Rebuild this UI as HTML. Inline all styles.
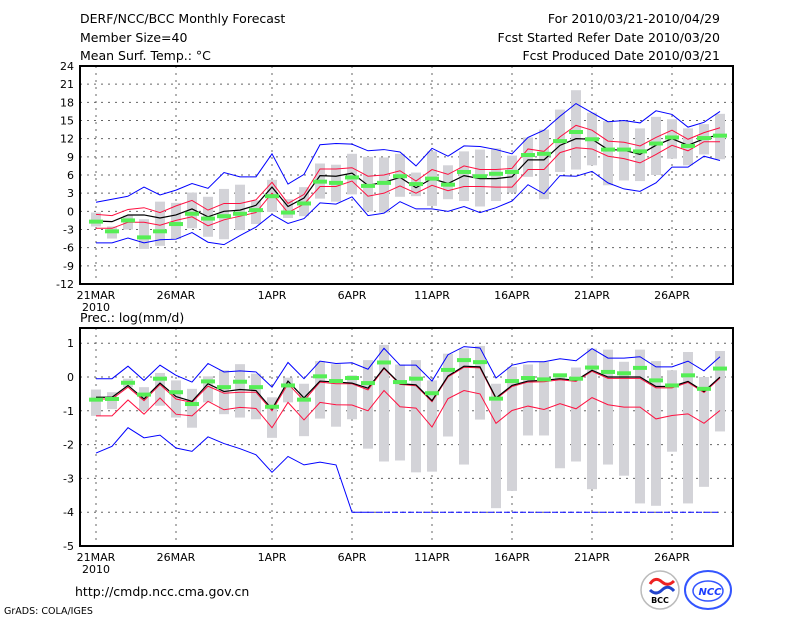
<!DOCTYPE html>
<html><head><meta charset="utf-8"><style>
body{margin:0;background:#fff;width:800px;height:618px;overflow:hidden}
svg{display:block}
text{font-family:"DejaVu Sans","Liberation Sans",sans-serif;fill:#000}
</style></head><body>
<svg id="c" width="800" height="618" viewBox="0 0 800 618">
<text x="80" y="23" font-size="12.5">DERF/NCC/BCC Monthly Forecast</text>
<text x="80" y="42" font-size="12.5">Member Size=40</text>
<text x="80" y="60" font-size="12.5">Mean Surf. Temp.: °C</text>
<text x="720" y="23" font-size="12.5" text-anchor="end">For 2010/03/21-2010/04/29</text>
<text x="720" y="42" font-size="12.5" text-anchor="end">Fcst Started Refer Date 2010/03/20</text>
<text x="720" y="60" font-size="12.5" text-anchor="end">Fcst Produced Date 2010/03/21</text>
<text x="80" y="322" font-size="12.5">Prec.: log(mm/d)</text>
<text x="75" y="596" font-size="12.5">http://cmdp.ncc.cma.gov.cn</text>
<text x="4" y="614" font-size="9.5">GrADS: COLA/IGES</text>
<g>
<circle cx="660" cy="590" r="19" fill="#fff" stroke="#bbb" stroke-width="1.5"/>
<path d="M650 584 q5 -8 12 -2 q6 5 12 -1" fill="none" stroke="#e22" stroke-width="3"/>
<path d="M650 590 q6 6 12 0 q6 -6 12 1" fill="none" stroke="#2244cc" stroke-width="3"/>
<text x="660" y="603" font-size="8" text-anchor="middle" font-weight="bold">BCC</text>
</g>
<g>
<ellipse cx="708" cy="590" rx="23" ry="19" fill="none" stroke="#3355ff" stroke-width="2"/>
<ellipse cx="708" cy="591" rx="15" ry="10" fill="none" stroke="#3355ff" stroke-width="1.5"/>
<text x="710" y="595" font-size="10" text-anchor="middle" style="fill:#1a3cff" font-weight="bold" font-style="italic">NCC</text>
</g>
</svg>
<script>
// ---- data: temperature (40 days, 21MAR..29APR)
const dateLabels=["21MAR","26MAR","1APR","6APR","11APR","16APR","21APR","26APR"];
const dateDays=[0,5,11,16,21,26,31,36];
const tTicks=[24,21,18,15,12,9,6,3,0,-3,-6,-9,-12];
const pTicks=[1,0,-1,-2,-3,-4,-5];
const tMax=[1.5,2,2.5,4,2.7,3.5,4.6,3.8,6.4,5.7,5.7,9.5,4.5,6.1,11,11.2,11.1,10,10.2,9.8,7.5,10.4,9.1,10.8,10.7,10.2,9.5,12.2,13.4,15.7,17.8,16.3,14.8,15,14.6,16.6,16,13.9,14.7,16.5];
const tMin=[-5.2,-5.2,-4.4,-5.2,-4.7,-4.6,-3.5,-5.1,-5.5,-4,-2.6,-0.5,-2,-1.2,1.4,1.2,2.4,-0.7,-0.3,1.6,0.4,0.4,0,0.8,-0.2,0.6,1.7,4.4,2.9,5.9,5.8,6.6,4.7,3.7,3.3,4.7,7.3,7.3,9.1,8.4];
const tUp=[-0.5,-0.7,0.3,0.6,-0.2,0.9,1.8,0.2,1.3,1.3,1.9,4.8,1.3,2.8,7,7,7.2,5.8,6,6.7,5,6.9,6.1,7.5,6.9,6.9,7.1,10.3,9.9,12.3,14.2,13.4,11.6,11.4,10.8,12.2,13.4,11.9,13,13.8];
const tMean=[-1.6,-1.7,-0.6,-0.6,-1.1,-0.6,0.4,-0.9,0,0.2,1,4,0.8,2.2,5.9,5.8,6.3,4.3,4.8,5.6,3.9,5.4,4.6,5.9,5.4,5.4,5.7,8.5,8.5,10.9,12,11.9,10.2,10.1,9.4,10.9,12,10.9,12,12.7];
const tLow=[-2.8,-2.8,-1.8,-1.8,-2.3,-1.5,-0.9,-2.4,-1.4,-0.8,-0.2,3,-0.2,1.2,4.1,4.1,5,2.5,3,4.2,3,4.3,3.4,4.1,4.1,4,4,6.9,6.9,9.7,10.5,10.3,9.1,8.7,8,9.4,10.9,10,11.5,11.5];
const tMed=[-1.7,-3.3,-1.5,-4.3,-3.3,-2.1,-0.4,-1.2,-0.8,-0.4,0.2,2.5,-0.2,1.3,4.9,4.7,5.6,4.2,4.7,5.8,4.5,5.4,4.4,6.5,5.8,6.2,6.5,9.3,9.5,11.6,13.1,11.9,10.2,10.2,9.9,11.2,12.2,10.8,12.1,12.5];
const tBarHi=[-0.2,-2.5,-0.7,-1.3,1.6,1.4,3.1,2.4,3.7,4.4,1.8,5.2,2,4,7.9,7.7,9.5,9,8.9,9.5,6.4,9.9,7.6,9.9,10.2,10.4,9.2,12.2,13.5,16.8,20,16.3,14.9,14.9,13.7,15.6,15.2,13.7,14.4,16.1];
const tBarLo=[-2.5,-4.5,-3,-6.2,-5.7,-4.6,-2.8,-4.2,-4.6,-3.1,-2.1,-0.1,-1.1,-0.8,2.1,1.6,2.8,0,-0.2,2.4,2.5,0.9,2,1.7,0.8,1.7,3.1,5.7,2,6.5,6.9,7.6,4.3,5.1,5,6,8.7,7.6,9.4,8.6];
// ---- data: precipitation log(mm/d)
const pMax=[-0.05,-0.05,0.32,-0.1,0.35,0.05,-0.15,0.4,0.15,0.18,0.15,-0.3,0.43,-0.05,0.47,0.4,0.42,0.23,0.85,0.35,0.35,-0.12,0.66,0.9,0.86,-0.03,0.35,0.45,0.45,0.54,0.48,0.84,0.56,0.56,0.6,0.3,0.3,0.47,0.18,0.6];
const pMin=[-2.25,-2.05,-1.5,-1.8,-1.72,-2.1,-2.2,-1.77,-1.97,-2.12,-2.3,-2.82,-2.35,-2.6,-2.52,-2.6,-4,-4,-4,-4,-4,-4,-4,-4,-4,-4,-4,-4,-4,-4,-4,-4,-4,-4,-4,-4,-4,-4,-4,-4];
const pMean=[-0.6,-0.6,-0.25,-0.65,-0.18,-0.58,-0.72,-0.2,-0.43,-0.37,-0.4,-0.95,-0.12,-0.62,-0.12,-0.15,-0.18,-0.33,0.27,-0.2,-0.23,-0.7,0.03,0.32,0.3,-0.62,-0.25,-0.12,-0.1,-0.05,-0.1,0.2,0,0,0,-0.28,-0.28,-0.13,-0.43,0];
const pUp=[-0.65,-0.65,-0.3,-0.7,-0.22,-0.65,-0.75,-0.27,-0.48,-0.45,-0.45,-1,-0.2,-0.7,-0.15,-0.2,-0.2,-0.38,0.25,-0.22,-0.26,-0.73,0,0.29,0.27,-0.65,-0.28,-0.15,-0.14,-0.08,-0.13,0.17,-0.04,-0.04,-0.04,-0.32,-0.32,-0.16,-0.46,-0.03];
const pLow=[-1.15,-1.15,-0.68,-1.1,-0.62,-1.1,-1.15,-0.72,-0.97,-0.9,-0.93,-1.5,-0.75,-1.27,-0.75,-0.82,-0.83,-1,-0.4,-0.88,-0.92,-1.48,-0.64,-0.4,-0.5,-1.37,-0.99,-0.86,-0.96,-0.79,-0.94,-0.61,-0.82,-0.89,-0.89,-1.24,-1.14,-1.09,-1.37,-0.99];
const pMed=[-0.67,-0.65,-0.17,-0.52,-0.05,-0.45,-0.8,-0.13,-0.3,-0.14,-0.3,-0.88,-0.25,-0.67,0.02,-0.12,-0.03,-0.18,0.43,-0.15,-0.05,-0.48,0.21,0.5,0.44,-0.64,-0.12,-0.03,-0.07,0.05,-0.05,0.28,0.15,0.11,0.27,-0.1,-0.25,0.05,-0.35,0.25];
const pBarHi=[-0.37,-0.45,-0.05,-0.3,0.12,-0.1,-0.35,0.02,0.2,0.38,0.1,-0.6,-0.02,-0.2,0.47,0.38,0.05,0.5,0.95,0.37,0.5,-0.1,0.69,0.84,0.92,-0.2,0.3,0.37,0.45,0.1,0.28,0.84,0.81,0.45,0.81,0.47,0.2,0.74,0,0.77];
const pBarLo=[-1.15,-0.95,-0.3,-1,-0.85,-1.2,-1.5,-0.75,-1.1,-1.2,-1.25,-1.8,-0.75,-1.75,-1.23,-1.47,-1.25,-2.12,-2.5,-2.47,-2.82,-2.8,-1.76,-2.59,-1.26,-3.88,-3.37,-1.73,-1.73,-2.7,-2.5,-3.32,-2.59,-2.92,-3.74,-3.81,-2.21,-3.74,-3.25,-1.61];

const NS="http://www.w3.org/2000/svg";
const svg=document.getElementById('c');
function mk(tag,attrs,parent){const e=document.createElementNS(NS,tag);for(const k in attrs)e.setAttribute(k,attrs[k]);(parent||svg).appendChild(e);return e;}
const xOf=d=>96+16*d;

function panel(name,top,bottom,vmax,vmin,ticks,bars,meds,lines){
  const g=mk('g',{});
  
  
  const y=v=>top+(vmax-v)/(vmax-vmin)*(bottom-top);
  ticks.forEach(t=>{
    if(t!==vmax&&t!==vmin){const l=mk('line',{x1:80,x2:733,y1:y(t),y2:y(t),stroke:'#666','stroke-dasharray':'2,5','stroke-width':1},g);
    
    }
    const tx=mk('text',{x:74,y:y(t)+4,'font-size':11,'text-anchor':'end'},g);
    tx.textContent=t;
    
    
  });
  dateDays.forEach((d,i)=>{
    const l=mk('line',{x1:xOf(d),x2:xOf(d),y1:top,y2:bottom,stroke:'#666','stroke-dasharray':'2,5'},g);
    
    
    const tx=mk('text',{x:xOf(d),y:bottom+15,'font-size':11,'text-anchor':'middle'},g);
    tx.textContent=dateLabels[i];
    
    
  });
  const yr=mk('text',{x:96,y:bottom+27,'font-size':11,'text-anchor':'middle'},g);
  yr.textContent='2010';
  
  
  bars[0].forEach((hi,d)=>{
    const lo=bars[1][d];
    const r=mk('rect',{x:xOf(d)-5,y:y(hi),width:10,height:Math.max(1,y(lo)-y(hi)),fill:'#d3d3d8'},g);
    
    
  });
  lines.forEach(([arr,col,w,lname,dashFrom])=>{
    let pts=[],pts2=[];
    arr.forEach((v,d)=>{ if(dashFrom!=null&&d>=dashFrom){ if(pts2.length===0)pts2.push(xOf(d-1)+','+y(arr[d-1])); pts2.push(xOf(d)+','+y(v)); if(d===dashFrom)pts.push(xOf(d)+','+y(v)); } else pts.push(xOf(d)+','+y(v)); });
    const p=mk('polyline',{points:pts.join(' '),fill:'none',stroke:col,'stroke-width':w},g);
    
    
    if(pts2.length>1){
      const p2=mk('polyline',{points:pts2.slice(1).join(' '),fill:'none',stroke:col,'stroke-width':w,'stroke-dasharray':'6,2'},g);
      
      
    }
  });
  meds.forEach((v,d)=>{
    const r=mk('rect',{x:xOf(d)-7,y:y(v)-2,width:14,height:4,fill:'#55ee55'},g);
    
    
  });
  const f=mk('rect',{x:80,y:top,width:653,height:bottom-top,fill:'none',stroke:'#000','stroke-width':2},g);
  
  
}
panel('temperature-panel',66,284,24,-12,tTicks,[tBarHi,tBarLo],tMed,[
  [tMax,'#0000ff',1,'max-line'],[tMin,'#0000ff',1,'min-line'],
  [tUp,'#ff1040',1,'upper-sd-line'],[tLow,'#ff1040',1,'lower-sd-line'],[tMean,'#000',1.2,'mean-line']]);
panel('precip-panel',328,546,1.45,-5,pTicks,[pBarHi,pBarLo],pMed,[
  [pMax,'#0000ff',1,'max-line'],[pMin,'#0000ff',1,'min-line',17],
  [pUp,'#ff1040',1,'upper-sd-line'],[pLow,'#ff1040',1,'lower-sd-line'],[pMean,'#000',1.2,'mean-line']]);
</script>
</body></html>
